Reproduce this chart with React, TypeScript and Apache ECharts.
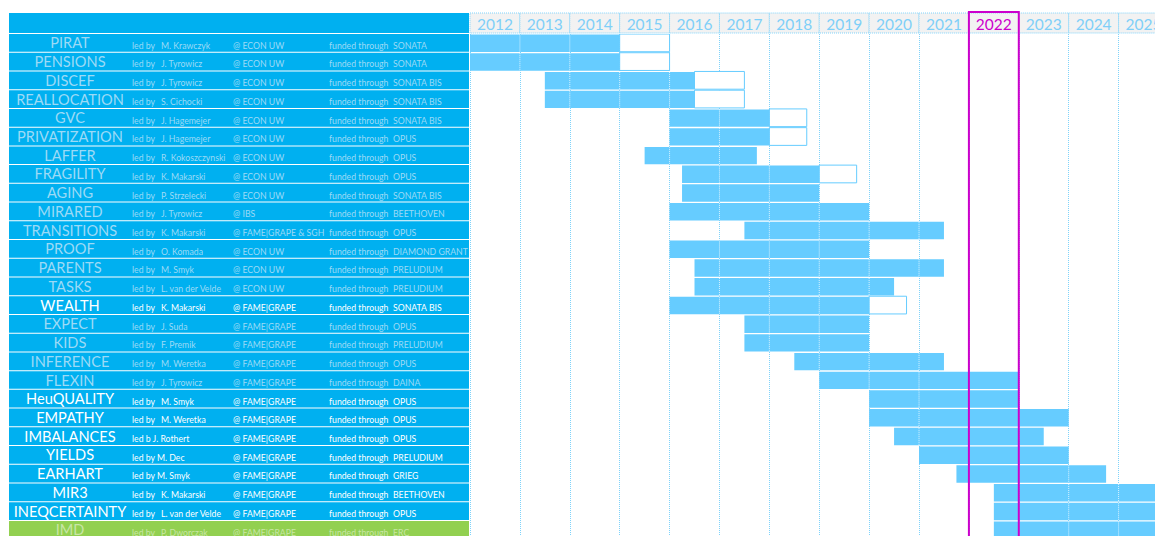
import React, { useEffect, useRef } from "react";
import * as echarts from "echarts";

const projects = [
  "PIRAT", "PENSIONS", "DISCEF", "REALLOCATION", "GVC", "PRIVATIZATION", "LAFFER",
  "FRAGILITY", "AGING", "MIRARED", "TRANSITIONS", "PROOF", "PARENTS", "TASKS",
  "WEALTH", "EXPECT", "KIDS", "INFERENCE", "FLEXIN", "HeuQUALITY", "EMPATHY",
  "IMBALANCES", "YIELDS", "EARHART", "MIR3", "INEQCERTAINTY", "IMD",
];
const leadLabels = [
  "led by", "led by", "led by", "led by", "led by", "led by", "led by",
  "led by", "led by", "led by", "led by", "led by", "led by", "led by",
  "led by", "led by", "led by", "led by", "led by", "led by", "led by",
  "led b J. Rothert", "led by M. Dec", "led by M. Smyk", "led by", "led by", "led by",
];
const leaders = [
  "M. Krawczyk", "J. Tyrowicz", "J. Tyrowicz", "S. Cichocki", "J. Hagemejer", "J. Hagemejer", "R. Kokoszczynski",
  "K. Makarski", "P. Strzelecki", "J. Tyrowicz", "K. Makarski", "O. Komada", "M. Smyk", "L. van der Velde",
  "K. Makarski", "J. Suda", "F. Premik", "M. Weretka", "J. Tyrowicz", "M. Smyk", "M. Weretka",
  "", "", "", "K. Makarski", "L. van der Velde", "P. Dworczak",
];
const institutions = [
  "ECON UW", "ECON UW", "ECON UW", "ECON UW", "ECON UW", "ECON UW", "ECON UW",
  "ECON UW", "ECON UW", "IBS", "FAME|GRAPE & SGH", "ECON UW", "ECON UW", "ECON UW",
  "FAME|GRAPE", "FAME|GRAPE", "FAME|GRAPE", "FAME|GRAPE", "FAME|GRAPE", "FAME|GRAPE", "FAME|GRAPE",
  "FAME|GRAPE", "FAME|GRAPE", "FAME|GRAPE", "FAME|GRAPE", "FAME|GRAPE", "FAME|GRAPE",
];
const programs = [
  "SONATA", "SONATA", "SONATA BIS", "SONATA BIS", "SONATA BIS", "OPUS", "OPUS",
  "OPUS", "SONATA BIS", "BEETHOVEN", "OPUS", "DIAMOND GRANT", "PRELUDIUM", "PRELUDIUM",
  "SONATA BIS", "OPUS", "PRELUDIUM", "OPUS", "DAINA", "OPUS", "OPUS",
  "OPUS", "PRELUDIUM", "GRIEG", "BEETHOVEN", "OPUS", "ERC",
];
const activeFlags = [
  false, false, false, false, false, false, false,
  false, false, false, false, false, false, false,
  true, false, false, false, false, true, true,
  true, true, true, true, true, false,
];
const startYears = [
  2012, 2012, 2013.5, 2013.5, 2016, 2016, 2015.5,
  2016.25, 2016.25, 2016, 2017.5, 2016, 2016.5, 2016.5,
  2016, 2017.5, 2017.5, 2018.5, 2019, 2020, 2020,
  2020.5, 2021, 2021.75, 2022.5, 2022.5, 2022.5,
];
const endYears = [
  2015, 2015, 2016.5, 2016.5, 2018, 2018, 2017.75,
  2019, 2019, 2020, 2021.5, 2020, 2021.5, 2020.5,
  2020, 2020, 2020, 2021.5, 2023, 2023, 2024,
  2023.5, 2024, 2024.75, 2027, 2027, 2027,
];
const extensionEnds: (number | null)[] = [
  2016, 2016, 2017.5, 2017.5, 2018.75, 2018.75, null,
  2019.75, null, null, null, null, null, null,
  2020.75, null, null, null, null, null, null,
  null, null, null, null, null, null,
];
const years = [2012, 2013, 2014, 2015, 2016, 2017, 2018, 2019, 2020, 2021, 2022, 2023, 2024, 2025];
const highlightYear = 2022;

const X_MIN = 2012;
const X_MAX = 2025.73;
const TABLE_W = 460;
const FONT = "Lato, 'Open Sans', sans-serif";
const BLUE = "#00b0f0";
const GREEN = "#92d050";
const BAR = "#66ccff";
const LIGHT = "#9cdaf6";
const GRIDLINE = "#7fd3fb";
const PURPLE = "#cc00cc";

export default function App() {
  const ref = useRef<HTMLDivElement>(null);

  useEffect(() => {
    if (!ref.current) return;
    const chart = echarts.init(ref.current, null, { renderer: "svg" });

    const tableRender = (params: any, api: any) => {
      const i = params.dataIndex;
      const l = api.coord([0, i]);
      const r = api.coord([TABLE_W, i]);
      const h = api.size([0, 1])[1];
      const cy = l[1];
      const top = cy - h / 2;
      const x0 = l[0];
      const isErc = programs[i] === "ERC";
      const bg = isErc ? GREEN : BLUE;
      const fg = isErc ? "#c8e6a6" : activeFlags[i] ? "#ffffff" : LIGHT;
      const small = (text: string, dx: number) => ({
        type: "text",
        x: x0 + dx,
        y: cy + 1.8,
        style: { text, fill: fg, fontSize: 8.7, fontFamily: FONT, align: "left", verticalAlign: "middle" },
      });
      const children: any[] = [
        { type: "rect", shape: { x: x0, y: top, width: r[0] - x0, height: h - 1 }, style: { fill: bg } },
        {
          type: "text",
          x: x0 + 61,
          y: cy - 0.5,
          style: { text: projects[i], fill: fg, fontSize: 14.6, fontFamily: FONT, align: "center", verticalAlign: "middle" },
        },
        small(leadLabels[i], 123),
        small("@ " + institutions[i], 224),
        small("funded through", 320),
        small(programs[i], 384),
      ];
      if (leaders[i]) children.push(small(leaders[i], 152));
      return { type: "group", children };
    };

    const barRender = (params: any, api: any) => {
      const i = api.value(0);
      const s = api.coord([api.value(1), i]);
      const e = api.coord([api.value(2), i]);
      const h = api.size([0, 1])[1];
      const top = s[1] - h / 2;
      const children: any[] = [];
      const ext = extensionEnds[i];
      if (ext != null) {
        const xe = api.coord([ext, i])[0];
        children.push({
          type: "rect",
          shape: { x: e[0], y: top, width: xe - e[0], height: h - 1 },
          style: { fill: "#ffffff", stroke: BAR, lineWidth: 1 },
        });
      }
      children.push({
        type: "rect",
        shape: { x: s[0], y: top + 0.5, width: e[0] - s[0], height: h - 1.3 },
        style: { fill: BAR },
      });
      // faint cell borders of the year grid showing through the bar
      const first = Math.ceil(api.value(1) + 1e-6);
      for (let y = first; y < api.value(2); y++) {
        const xl = api.coord([y, i])[0];
        children.push({
          type: "line",
          shape: { x1: xl, y1: top + 0.5, x2: xl, y2: top + h - 0.8 },
          style: { stroke: "rgba(255,255,255,0.75)", lineWidth: 1, lineDash: [1, 1] },
        });
      }
      return { type: "group", children };
    };

    const headerRender = (params: any, api: any) => {
      const y = api.value(0);
      const a = api.coord([y, 0]);
      const b = api.coord([y + 1, 0]);
      const h = api.size([0, 1])[1];
      const top = a[1] - h / 2;
      return {
        type: "group",
        children: [
          {
            type: "rect",
            shape: { x: a[0], y: top, width: b[0] - a[0], height: h },
            style: { fill: "#f2f2f2", stroke: GRIDLINE, lineWidth: 1, lineDash: [1, 1] },
          },
          {
            type: "text",
            x: (a[0] + b[0]) / 2,
            y: a[1] + 1,
            style: {
              text: String(y),
              fill: y === highlightYear ? PURPLE : "#7fcff8",
              fontSize: 15.5,
              fontFamily: FONT,
              align: "center",
              verticalAlign: "middle",
            },
          },
        ],
      };
    };

    const rowsTop = 34;
    const rowH = 18.73;
    const gridH = rowH * projects.length;

    chart.setOption({
      animation: false,
      backgroundColor: "#ffffff",
      grid: [
        { left: 470, top: rowsTop, right: 0, height: gridH, outerBoundsMode: "none" },
        { left: 9, top: rowsTop, width: TABLE_W, height: gridH, outerBoundsMode: "none" },
        { left: 470, top: 13, right: 0, height: 20, outerBoundsMode: "none" },
      ],
      xAxis: [
        {
          type: "value", gridIndex: 0, min: X_MIN, max: X_MAX, interval: 1,
          axisLabel: { show: false }, axisTick: { show: false }, axisLine: { show: false },
          splitLine: { show: true, lineStyle: { type: "dotted", color: GRIDLINE, width: 1 } },
        },
        { type: "value", gridIndex: 1, min: 0, max: TABLE_W, show: false, splitLine: { show: false } },
        { type: "value", gridIndex: 2, min: X_MIN, max: X_MAX, interval: 1, show: false, splitLine: { show: false } },
      ],
      yAxis: [
        { type: "category", gridIndex: 0, data: projects, inverse: true, show: false, splitLine: { show: false } },
        { type: "category", gridIndex: 1, data: projects, inverse: true, show: false, splitLine: { show: false } },
        { type: "category", gridIndex: 2, data: ["years"], show: false, splitLine: { show: false } },
      ],
      series: [
        {
          type: "custom", name: "table", xAxisIndex: 1, yAxisIndex: 1,
          renderItem: tableRender,
          data: projects.map((p, i) => [0, i]),
          encode: { x: 0, y: 1 },
          clip: false,
          silent: true,
        },
        {
          type: "custom", name: "projects", xAxisIndex: 0, yAxisIndex: 0,
          renderItem: barRender,
          data: projects.map((p, i) => [i, startYears[i], endYears[i], extensionEnds[i] ?? endYears[i]]),
          encode: { x: [1, 2, 3], y: 0 },
          clip: true,
          silent: true,
        },
        {
          type: "custom", name: "years", xAxisIndex: 2, yAxisIndex: 2,
          renderItem: headerRender,
          data: years.map((y) => [y]),
          encode: { x: 0 },
          clip: false,
          silent: true,
        },
      ],
    });

    const xa = chart.convertToPixel({ xAxisIndex: 0 }, highlightYear) as number;
    const xb = chart.convertToPixel({ xAxisIndex: 0 }, highlightYear + 1) as number;
    chart.setOption({
      graphic: [
        { type: "rect", id: "hdr", shape: { x: 9, y: 13, width: TABLE_W, height: 20 }, style: { fill: BLUE }, silent: true },
        {
          type: "rect", id: "hl", z: 100,
          shape: { x: xa, y: 12, width: xb - xa, height: 540 },
          style: { fill: "none", stroke: PURPLE, lineWidth: 2 },
          silent: true,
        },
      ],
    });

    return () => chart.dispose();
  }, []);

  return (
    <div
      ref={ref}
      style={{ position: "fixed", left: 0, top: 0, width: 1155, height: 536, background: "#fff" }}
    />
  );
}
